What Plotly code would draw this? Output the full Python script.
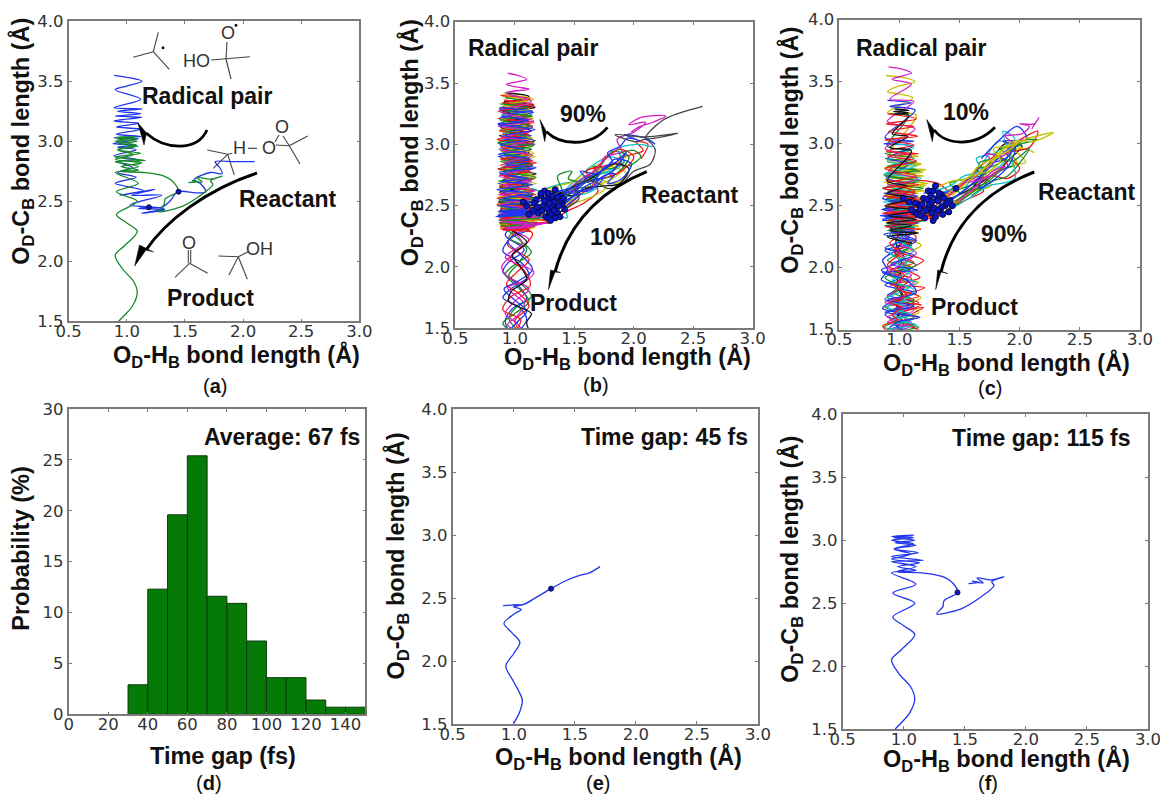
import plotly.graph_objects as go

W, H = 1160, 795
BLUE, GREEN, RED, CYAN, MAG, OLIVE, BLACK = "#1f35ee", "#158a2a", "#f01818", "#12bfc4", "#d41fc4", "#c4c000", "#111111"

# ---------- panel (d) histogram ----------
hist_left = [30, 40, 50, 60, 70, 80, 90, 100, 110, 120, 130, 140]
hist_prob = [2.9, 12.3, 19.6, 25.4, 11.6, 10.9, 7.2, 3.6, 3.6, 1.4, 0.7, 0.7]
hist_ticks = [0, 20, 40, 60, 80, 100, 120, 140]

# ---------- single trajectories ----------
e_x = [1.706, 1.62, 1.54, 1.43, 1.305, 1.19, 1.08, 0.98, 0.915, 1.09, 1.0, 1.06, 0.997, 0.92, 0.98, 1.05, 1.0, 0.935, 0.997, 1.07, 1.05, 0.997]
e_y = [2.75, 2.70, 2.68, 2.64, 2.575, 2.51, 2.45, 2.445, 2.44, 2.45, 2.43, 2.41, 2.37, 2.30, 2.23, 2.15, 2.06, 1.96, 1.84, 1.69, 1.6, 1.5]
e_dot_x, e_dot_y = [1.305], [2.575]

f_x = [1.53, 1.62, 1.56, 1.65, 1.6, 1.72, 1.82, 1.72, 1.74, 1.62, 1.47, 1.27, 1.32, 1.33, 1.44, 1.41, 1.32, 1.15, 0.94, 1.10, 0.90, 1.16, 0.90, 1.12, 0.92, 1.10, 0.93, 1.09, 0.92, 1.07, 0.91, 1.08, 0.90, 1.08, 0.90, 1.08, 0.92, 1.06, 0.90, 1.13, 0.95, 1.10, 0.90, 1.10, 0.91, 1.09, 0.91, 1.0, 1.09, 0.98, 0.90, 0.96, 1.06, 1.09, 1.05, 0.98, 0.93]
f_y = [2.655, 2.665, 2.675, 2.66, 2.70, 2.685, 2.71, 2.67, 2.64, 2.54, 2.455, 2.415, 2.47, 2.52, 2.585, 2.65, 2.71, 2.74, 2.75, 2.79, 2.83, 2.84, 2.87, 2.90, 2.93, 2.96, 2.98, 3.0, 3.02, 3.025, 3.03, 3.04, 3.03, 3.02, 3.0, 2.97, 2.93, 2.89, 2.85, 2.82, 2.79, 2.76, 2.74, 2.65, 2.58, 2.5, 2.39, 2.32, 2.25, 2.13, 2.05, 1.94, 1.83, 1.74, 1.63, 1.55, 1.5]
f_dot_x, f_dot_y = [1.44], [2.585]

a_blue_x = [2.1, 1.92, 1.76, 1.80, 1.82, 1.72, 1.58, 1.63, 1.68, 1.60, 1.44, 1.37, 1.30, 1.19, 1.10, 1.33, 1.13, 1.32, 1.03, 1.30, 1.04, 1.24, 0.94, 1.14, 0.90, 1.08, 0.92, 1.05, 0.92, 1.08, 0.89, 1.08, 0.92, 1.08, 0.88, 1.10, 0.89, 1.12, 0.91, 1.12, 0.91, 1.10, 0.89, 1.13, 0.90, 1.12, 0.92, 1.13, 0.89, 1.12, 0.90, 1.0, 1.13, 1.02, 0.89]
a_blue_y = [2.83, 2.83, 2.83, 2.78, 2.73, 2.74, 2.68, 2.65, 2.58, 2.57, 2.58, 2.50, 2.45, 2.45, 2.44, 2.43, 2.40, 2.44, 2.47, 2.55, 2.55, 2.60, 2.55, 2.59, 2.65, 2.70, 2.74, 2.78, 2.83, 2.85, 2.88, 2.93, 2.95, 2.97, 2.98, 3.02, 3.03, 3.04, 3.06, 3.10, 3.12, 3.15, 3.17, 3.20, 3.21, 3.23, 3.25, 3.27, 3.28, 3.35, 3.43, 3.46, 3.50, 3.53, 3.55]
a_dot_x, a_dot_y = [1.19, 1.445], [2.45, 2.58]

# ---------- panel (b) radical-forming bundle ----------
b_blue_x = [.90,1.12,.87,1.16,.88,1.13,.86,1.15,.90,1.14,.87,1.17,.89,1.10,.86,1.13,.91,1.16,.88,1.12,.86,1.09,.90,1.15,.87,1.14,.85,1.18,.88,1.21,.86,1.17,.84,1.24,.87,1.16,.89,1.28,.91,1.30]
b_blue_y = [3.34,3.31,3.28,3.26,3.22,3.20,3.17,3.14,3.09,3.07,3.03,3.00,2.97,2.93,2.90,2.86,2.82,2.80,2.76,2.71,2.68,2.64,2.61,2.58,2.55,2.53,2.50,2.48,2.46,2.45,2.43,2.42,2.41,2.44,2.46,2.40,2.38,2.42,2.45,2.48]
b_green_x = [.92,1.08,.89,1.14,.90,1.12,.88,1.11,.93,1.16,.88,1.13,.90,1.15,.87,1.12,.91,1.14,.89,1.10,.92,1.17,.88,1.13,.86,1.22,.90,1.15,.88,1.12,.91,1.18,.87,1.10,.93,1.13,.95,1.09,1.02,1.25]
b_green_y = [3.38,3.35,3.30,3.24,3.20,3.16,3.12,3.08,3.05,3.01,2.95,2.92,2.87,2.84,2.80,2.77,2.73,2.70,2.66,2.63,2.58,2.56,2.52,2.49,2.45,2.42,2.39,2.37,2.34,2.33,2.31,2.34,2.36,2.32,2.30,2.33,2.36,2.38,2.41,2.44]
b_red_x = [.91,1.15,.87,1.11,.86,1.16,.89,1.12,.86,1.13,.88,1.10,.92,1.15,.88,1.13,.87,1.17,.90,1.12,.88,1.18,.85,1.11,.88,1.20,.89,1.14,.87,1.16,.88,1.12,.90,1.14,.92,1.20,.95,1.30,1.05,1.35]
b_red_y = [3.36,3.33,3.29,3.25,3.21,3.18,3.13,3.10,3.04,3.02,2.98,2.94,2.89,2.87,2.83,2.78,2.75,2.72,2.69,2.65,2.60,2.59,2.56,2.52,2.47,2.44,2.40,2.39,2.36,2.35,2.33,2.31,2.30,2.33,2.36,2.38,2.35,2.37,2.40,2.43]
b_cyan_x = [.93,1.10,.90,1.13,.92,1.10,.88,1.12,.91,1.14,.89,1.09,.93,1.13,.88,1.15,.90,1.11,.87,1.14,.93,1.18,.89,1.12,.90,1.16,.92,1.10,.95,1.20]
b_cyan_y = [3.32,3.28,3.23,3.15,3.11,3.06,2.99,2.96,2.91,2.85,2.79,2.74,2.69,2.62,2.57,2.54,2.49,2.44,2.40,2.37,2.35,2.40,2.47,2.51,2.54,2.60,2.63,2.67,2.70,2.62]
b_mag_x = [.94,1.03,1.10,.93,1.0,1.12,.92,1.14,.88,1.16,.86,1.13,.89,1.10,.87,1.15,.91,1.12,.87,1.14,.90,1.17,.86,1.12,.89,1.15,.88,1.20,.87,1.14,.91,1.24,.90,1.15,.93,1.28]
b_mag_y = [3.58,3.56,3.53,3.49,3.47,3.45,3.42,3.35,3.27,3.19,3.15,3.11,3.06,3.03,2.96,2.91,2.85,2.81,2.74,2.70,2.67,2.62,2.59,2.56,2.51,2.47,2.43,2.41,2.38,2.34,2.32,2.35,2.37,2.33,2.31,2.36]
b_olive_x = [.90,1.16,.92,1.13,.89,1.10,.87,1.14,.90,1.16,.88,1.12,.91,1.17,.87,1.14,.92,1.10,.86,1.15,.89,1.13,.91,1.19,.87,1.13,.90,1.17,.88,1.15,.93,1.22,.95,1.30]
b_olive_y = [3.41,3.37,3.32,3.27,3.19,3.15,3.11,3.05,2.98,2.93,2.88,2.81,2.78,2.74,2.67,2.63,2.57,2.55,2.50,2.46,2.43,2.38,2.36,2.40,2.45,2.37,2.35,2.33,2.32,2.36,2.34,2.38,2.36,2.44]
b_black_x = [.93,1.12,.91,1.17,.89,1.14,.88,1.10,.86,1.14,.91,1.13,.89,1.18,.91,1.11,.87,1.15,.90,1.12,.88,1.17,.93,1.12,.87,1.14,.90,1.19,.92,1.13,.94,1.30]
b_black_y = [3.42,3.39,3.33,3.30,3.26,3.21,3.14,3.09,3.01,2.96,2.92,2.86,2.79,2.76,2.71,2.66,2.61,2.57,2.53,2.51,2.48,2.47,2.44,2.41,2.38,2.35,2.33,2.36,2.34,2.31,2.33,2.36]
b_e1_x = [.88,1.13,.90,1.17,.86,1.10,.92,1.15,.87,1.12,.85,1.16,.90,1.11,.88,1.18,.86,1.13,.91,1.09,.87,1.16,.92,1.12,.85,1.19,.89,1.14,.87,1.11,.93,1.17,.88,1.14]
b_e1_y = [3.40,3.37,3.34,3.31,3.27,3.23,3.19,3.15,3.11,3.08,3.04,3.00,2.96,2.91,2.88,2.85,2.80,2.78,2.74,2.69,2.66,2.62,2.59,2.55,2.51,2.48,2.45,2.43,2.39,2.37,2.35,2.33,2.31,2.29]
b_e2_x = [.87,1.15,.89,1.11,.86,1.17,.91,1.14,.88,1.09,.86,1.13,.92,1.18,.87,1.11,.89,1.15,.85,1.12,.90,1.16,.87,1.10,.86,1.20,.88,1.16,.85,1.22,.90,1.25,.86,1.18]
b_e2_y = [3.30,3.27,3.24,3.19,3.16,3.12,3.07,3.04,3.00,2.95,2.92,2.88,2.84,2.81,2.77,2.72,2.70,2.67,2.63,2.60,2.56,2.53,2.50,2.47,2.45,2.44,2.42,2.43,2.41,2.46,2.44,2.47,2.42,2.45]
b_e3_x = [.90,1.14,.87,1.12,.92,1.16,.88,1.10,.91,1.15,.86,1.13,.89,1.17,.90,1.11,.87,1.14,.92,1.18,.88,1.12,.86,1.15,.90,1.16,.89,1.13,.87,1.17,.92,1.14,.90,1.20]
b_e3_y = [3.39,3.36,3.33,3.29,3.24,3.21,3.17,3.13,3.08,3.05,3.02,2.97,2.94,2.90,2.85,2.82,2.79,2.75,2.72,2.68,2.64,2.60,2.57,2.54,2.49,2.44,2.41,2.38,2.35,2.32,2.30,2.34,2.37,2.41]
b_e4_x = [.89,1.11,.90,1.15,.87,1.13,.93,1.10,.86,1.16,.90,1.12,.88,1.14,.91,1.18,.86,1.11,.89,1.15,.87,1.13,.92,1.19,.86,1.12,.89,1.16,.91,1.14,.88,1.23,.90,1.26]
b_e4_y = [3.33,3.30,3.26,3.23,3.20,3.15,3.10,3.06,3.01,2.99,2.93,2.89,2.86,2.82,2.78,2.73,2.70,2.67,2.62,2.60,2.54,2.50,2.47,2.44,2.42,2.40,2.36,2.35,2.33,2.36,2.38,2.40,2.43,2.46]
b_e5_x = [.91,1.16,.88,1.11,.90,1.14,.87,1.17,.89,1.12,.92,1.15,.86,1.10,.90,1.13,.87,1.18,.91,1.12,.86,1.15,.89,1.14,.88,1.20,.90,1.13,.87,1.16,.89,1.22,.93,1.18]
b_e5_y = [3.35,3.32,3.28,3.22,3.18,3.11,3.07,3.03,2.99,2.93,2.89,2.83,2.80,2.75,2.71,2.67,2.65,2.63,2.59,2.56,2.53,2.50,2.48,2.46,2.43,2.40,2.38,2.37,2.35,2.34,2.32,2.35,2.38,2.42]

# arm of panel (b): from the transition-state region out to the reactant side
b_arm1_x = [1.18,1.30,1.42,1.52,1.60,1.55,1.68,1.75,1.82,1.78,1.88,1.95,2.05,1.92,2.10,2.18]
b_arm1_y = [2.56,2.60,2.63,2.66,2.72,2.78,2.76,2.80,2.86,2.93,2.98,3.05,3.03,3.08,3.05,3.00]
b_arm2_x = [1.15,1.28,1.40,1.36,1.48,1.45,1.62,1.70,1.66,1.80,1.92,1.88,2.00,2.06,1.96]
b_arm2_y = [2.45,2.52,2.60,2.74,2.78,2.72,2.70,2.76,2.82,2.80,2.86,2.92,2.95,2.90,2.82]
b_arm3_x = [1.16,1.30,1.45,1.58,1.70,1.66,1.80,1.92,1.86,2.00,2.08,2.02,2.12,2.06]
b_arm3_y = [2.40,2.38,2.46,2.52,2.62,2.70,2.74,2.80,2.88,2.92,2.95,3.02,3.00,2.88]
b_arm4_x = [1.22,1.36,1.50,1.60,1.72,1.68,1.84,1.96,1.90,1.78,1.62,1.50,1.38]
b_arm4_y = [2.62,2.66,2.70,2.78,2.84,2.74,2.84,2.90,2.78,2.70,2.64,2.56,2.48]
b_arm5_x = [1.20,1.34,1.46,1.56,1.70,1.76,1.90,1.86,2.00,2.10,1.96,2.06,2.27,2.16,2.04,1.98]
b_arm5_y = [2.50,2.56,2.64,2.72,2.80,2.90,2.94,3.04,3.10,3.18,3.16,3.22,3.23,3.18,3.14,3.10]
b_arm6_x = [1.14,1.30,1.44,1.54,1.64,1.74,1.84,1.78,1.90,1.98,1.84,1.76,1.60,1.50]
b_arm6_y = [2.44,2.48,2.54,2.62,2.64,2.74,2.76,2.68,2.72,2.84,2.88,2.80,2.72,2.62]
b_arm7_x = [1.26,1.40,1.54,1.50,1.66,1.78,1.88,2.00,2.14,2.18,2.10,2.02,1.84,2.10,2.37,2.10,2.25,2.58]
b_arm7_y = [2.40,2.46,2.56,2.66,2.70,2.64,2.66,2.78,2.84,2.96,3.04,3.02,3.08,3.06,3.09,3.05,3.20,3.31]
b_arm8_x = [1.08,1.20,1.32,1.44,1.40,1.30,1.48,1.60,1.70,1.64,1.82,1.92,1.86,2.02,2.16]
b_arm8_y = [2.50,2.47,2.44,2.40,2.50,2.56,2.58,2.60,2.66,2.74,2.78,2.86,2.96,3.00,2.98]
b_arm9_x = [1.16,1.28,1.38,1.48,1.58,1.68,1.76,1.86,1.94,1.84,1.72,1.60,1.50,1.40,1.30]
b_arm9_y = [2.50,2.58,2.62,2.60,2.68,2.72,2.82,2.86,2.94,2.80,2.72,2.66,2.58,2.50,2.44]
b_arm10_x = [1.20,1.32,1.44,1.54,1.66,1.60,1.74,1.86,1.80,1.92,2.00,1.88,1.76,1.62,1.46]
b_arm10_y = [2.42,2.50,2.50,2.58,2.68,2.78,2.82,2.84,2.74,2.80,2.90,2.96,2.88,2.74,2.60]
b_arm11_x = [1.18,1.30,1.26,1.42,1.52,1.64,1.58,1.72,1.82,1.90,1.96,1.82,1.70,1.54,1.42]
b_arm11_y = [2.56,2.62,2.50,2.56,2.64,2.66,2.74,2.72,2.74,2.80,2.90,2.94,2.80,2.70,2.54]
b_arm12_x = [1.22,1.36,1.50,1.62,1.76,1.70,1.84,1.94,1.80,1.66,1.56,1.42,1.30]
b_arm12_y = [2.46,2.44,2.52,2.56,2.64,2.72,2.68,2.76,2.82,2.76,2.66,2.52,2.42]
b_arm13_x = [1.20,1.34,1.48,1.60,1.74,1.88,1.96,1.84,1.70,1.60,1.46,1.34]
b_arm13_y = [2.60,2.62,2.58,2.64,2.66,2.68,2.80,2.84,2.76,2.70,2.64,2.52]
b_arm14_x = [1.26,1.40,1.54,1.66,1.78,1.90,1.80,1.64,1.48,1.36]
b_arm14_y = [2.64,2.68,2.70,2.74,2.78,2.86,2.90,2.82,2.68,2.56]
b_arm15_x = [1.10,1.22,1.34,1.46,1.56,1.46,1.34,1.24,1.12]
b_arm15_y = [2.42,2.46,2.50,2.56,2.60,2.52,2.42,2.40,2.46]
b_arm16_x = [1.12,1.24,1.36,1.50,1.62,1.74,1.62,1.48,1.36,1.22]
b_arm16_y = [2.54,2.58,2.58,2.62,2.62,2.72,2.70,2.64,2.54,2.48]

# product strands of panel (b)
b_p1_x = [1.02,.92,1.08,.95,.90,1.02,1.10,.98,.92,.96]
b_p1_y = [2.36,2.26,2.14,2.04,1.96,1.86,1.74,1.66,1.56,1.46]
b_p2_x = [1.10,1.00,.94,1.12,1.02,.93,1.04,1.12,1.00,1.06]
b_p2_y = [2.34,2.28,2.18,2.06,1.96,1.86,1.78,1.68,1.56,1.46]
b_p3_x = [.96,1.12,1.00,.89,.94,1.12,1.00,.92,1.02,1.08]
b_p3_y = [2.30,2.22,2.12,2.00,1.92,1.82,1.72,1.62,1.54,1.45]
b_p4_x = [1.05,.95,1.10,1.02,.95,1.08,1.14,1.00,.95,1.04]
b_p4_y = [2.33,2.24,2.15,2.02,1.93,1.84,1.76,1.66,1.58,1.47]
b_p5_x = [.93,1.10,.98,1.05,1.10,.97,.95,1.14,1.10,1.13]
b_p5_y = [2.32,2.20,2.10,2.00,1.90,1.80,1.72,1.62,1.55,1.46]
b_p6_x = [1.12,.94,1.04,1.15,1.02,.91,1.00,1.10,1.03,.93]
b_p6_y = [2.30,2.21,2.11,1.98,1.88,1.82,1.73,1.64,1.56,1.46]
b_p7_x = [.98,1.15,1.06,.96,1.08,1.13,.97,.90,1.05,1.00]
b_p7_y = [2.35,2.27,2.16,2.07,1.97,1.85,1.76,1.65,1.57,1.47]
b_p8_x = [1.00,1.06,.92,1.16,1.10,.94,1.08,1.02,.94,1.10]
b_p8_y = [2.28,2.19,2.08,1.96,1.89,1.83,1.70,1.60,1.53,1.44]
b_p9_x = [.90,1.04,1.14,1.00,.92,1.02,1.12,1.00,.90,1.02]
b_p9_y = [2.33,2.22,2.12,2.02,1.94,1.84,1.72,1.62,1.54,1.45]
b_p10_x = [1.08,.96,.90,1.06,1.12,.98,.90,1.04,1.10,1.00]
b_p10_y = [2.31,2.23,2.13,2.03,1.93,1.83,1.75,1.67,1.57,1.45]
b_dots_x = [1.10,1.15,1.18,1.22,1.25,1.28,1.31,1.34,1.37,1.40,1.42,1.20,1.24,1.27,1.30,1.33,1.36,1.39,1.16,1.19,1.23,1.26,1.29,1.32,1.35,1.38,1.25,1.28,1.31,1.34,1.37,1.22,1.27,1.30,1.33,1.36,1.07,1.12,1.41,1.29]
b_dots_y = [2.50,2.46,2.55,2.58,2.62,2.60,2.56,2.63,2.58,2.52,2.47,2.44,2.50,2.55,2.49,2.53,2.44,2.54,2.52,2.49,2.46,2.41,2.45,2.58,2.48,2.41,2.54,2.40,2.43,2.40,2.50,2.60,2.48,2.38,2.46,2.57,2.53,2.43,2.56,2.52]

# ---------- panel (c) bundle ----------
c_blue_x = [.90,1.10,.92,1.13,.88,1.12,.87,1.11,.90,1.08,.89,1.04,.86,1.12,.88,1.08,.84,1.13,.86,1.15,.88,1.18,.88,1.24]
c_blue_y = [3.35,3.33,3.30,3.27,3.05,3.02,3.00,2.98,2.88,2.84,2.72,2.68,2.56,2.52,2.48,2.44,2.42,2.40,2.38,2.42,2.46,2.43,2.40,2.48]
c_green_x = [.92,1.07,.90,1.10,.88,1.12,.93,1.14,.88,1.16,.86,1.13,.89,1.18,.86,1.08,.92,1.16,.88,1.13,.90,1.20]
c_green_y = [3.24,3.22,2.98,2.95,2.92,2.88,2.82,2.79,2.74,2.70,2.64,2.60,2.56,2.52,2.47,2.44,2.40,2.37,2.34,2.32,2.30,2.38]
c_red_x = [.90,1.14,.89,1.12,.91,1.15,.88,1.12,.89,1.16,.90,1.14,.88,1.14,.90,1.13,.87,1.16,.90,1.25,.92,1.32,.95,1.16,1.38]
c_red_y = [3.24,3.20,3.16,3.14,3.10,3.06,3.03,2.99,2.94,2.92,2.90,2.86,2.80,2.74,2.68,2.62,2.58,2.54,2.50,2.48,2.44,2.42,2.40,2.38,2.44]
c_cyan_x = [.93,1.12,.90,1.14,.88,1.18,.90,1.12,.87,1.15,.92,1.20,.90,1.14]
c_cyan_y = [3.00,2.97,2.86,2.82,2.76,2.72,2.66,2.60,2.53,2.49,2.45,2.42,2.36,2.33]
c_mag_x = [.91,1.03,1.10,.94,1.10,.92,1.12,.90,1.13,.88,1.10,.91,1.15,.88,1.14,.90,1.22,.92]
c_mag_y = [3.62,3.60,3.57,3.52,3.48,3.36,3.34,3.18,3.12,2.96,2.90,2.78,2.72,2.64,2.56,2.46,2.42,2.34]
c_olive_x = [.89,1.05,1.13,.98,.90,1.00,1.11,.90,1.14,.92,1.16,.90,1.18,.88,1.22,.90,1.20,.88,1.24,.90,1.22,.87,1.16,.90,1.12,.88,1.18,.92,1.14,.89,1.16]
c_olive_y = [3.55,3.53,3.50,3.46,3.42,3.40,3.37,3.25,3.23,2.92,2.90,2.86,2.84,2.81,2.79,2.76,2.74,2.71,2.68,2.65,2.62,2.60,2.57,2.55,2.52,2.49,2.46,2.43,2.40,2.37,2.34]
c_black_x = [.96,1.08,.95,1.08,.96,1.08,.94,1.07,.92,1.10,.90,1.06,.90,1.12,.88,1.15,.91,1.14,.89,1.10,.93,1.13]
c_black_y = [3.28,3.27,3.26,3.25,3.24,3.23,3.08,3.06,2.97,2.94,2.70,2.66,2.60,2.56,2.50,2.46,2.42,2.39,2.36,2.34,2.30,2.28]
c_e1_x = [.90,1.18,.88,1.20,.91,1.14,.87,1.22,.90,1.16,.88,1.24,.92,1.16]
c_e1_y = [2.85,2.83,2.80,2.77,2.74,2.72,2.69,2.66,2.63,2.60,2.58,2.56,2.53,2.51]
c_e2_x = [.88,1.14,.90,1.17,.87,1.13,.91,1.20,.88,1.15,.90,1.18,.86,1.14]
c_e2_y = [2.88,2.85,2.82,2.78,2.75,2.70,2.67,2.64,2.60,2.57,2.54,2.50,2.47,2.45]
c_e3_x = [.89,1.16,.86,1.13,.90,1.19,.88,1.14,.86,1.16,.90,1.14,.88,1.18]
c_e3_y = [2.70,2.67,2.64,2.60,2.57,2.55,2.50,2.47,2.44,2.42,2.38,2.36,2.33,2.31]
c_e4_x = [.90,1.12,.88,1.15,.92,1.10,.87,1.14,.90,1.13,.92,1.16,.90,1.10]
c_e4_y = [2.62,2.58,2.55,2.52,2.48,2.45,2.42,2.40,2.37,2.34,2.31,2.28,2.25,2.20]
c_e5_x = [.87,1.15,.90,1.10,.85,1.17,.88,1.20,.86,1.16,.90,1.12,.87,1.14]
c_e5_y = [2.60,2.58,2.54,2.50,2.47,2.44,2.41,2.44,2.39,2.36,2.33,2.30,2.27,2.22]

c_arm1_x = [1.16,1.30,1.42,1.52,1.62,1.70,1.78,1.72,1.86,1.94,1.88,2.02,2.08,2.00,2.12,2.16,2.10]
c_arm1_y = [2.56,2.54,2.60,2.68,2.72,2.80,2.84,2.92,2.90,3.00,3.06,3.08,3.14,3.16,3.16,3.21,3.12]
c_arm2_x = [1.20,1.36,1.46,1.58,1.70,1.64,1.78,1.90,1.84,1.96,2.04,2.15,2.02,1.92]
c_arm2_y = [2.48,2.58,2.62,2.66,2.72,2.80,2.82,2.90,2.96,2.98,3.03,3.03,3.00,2.94]
c_arm3_x = [1.24,1.38,1.50,1.62,1.76,1.72,1.86,1.98,1.92,2.02,2.12,1.98,1.88,2.05,1.92]
c_arm3_y = [2.40,2.46,2.54,2.62,2.66,2.76,2.80,2.84,2.94,2.96,2.93,2.98,3.02,2.85,2.84]
c_arm4_x = [1.20,1.34,1.32,1.44,1.56,1.68,1.66,1.80,1.92,1.96,1.86,2.06,1.98,1.80,1.68]
c_arm4_y = [2.60,2.62,2.52,2.56,2.64,2.72,2.64,2.72,2.84,2.98,3.02,3.04,3.14,3.00,2.88]
c_arm5_x = [1.18,1.32,1.46,1.58,1.70,1.62,1.78,1.90,2.00,1.90,2.08,2.15,1.98]
c_arm5_y = [2.44,2.42,2.50,2.56,2.62,2.70,2.74,2.72,2.80,2.92,2.97,3.10,3.02]
c_arm6_x = [1.22,1.35,1.48,1.60,1.74,1.84,1.78,1.92,2.06,2.28,2.12,1.95,1.82,1.68]
c_arm6_y = [2.52,2.56,2.66,2.74,2.78,2.86,2.96,2.98,3.04,3.09,3.02,3.02,2.92,2.78]
c_arm7_x = [1.20,1.36,1.50,1.42,1.58,1.72,1.66,1.84,1.94,2.08,1.90,1.78,1.60]
c_arm7_y = [2.40,2.52,2.60,2.68,2.72,2.76,2.84,2.88,2.86,2.96,2.74,2.70,2.58]
c_arm8_x = [1.28,1.42,1.54,1.68,1.64,1.78,1.88,1.96,1.86,1.96,1.74,1.58,1.44]
c_arm8_y = [2.62,2.66,2.74,2.78,2.88,2.92,2.98,3.04,3.10,2.72,2.66,2.56,2.48]
c_arm9_x = [1.20,1.34,1.46,1.56,1.68,1.78,1.90,1.82,1.70,1.58,1.44,1.30]
c_arm9_y = [2.42,2.42,2.52,2.60,2.66,2.76,2.82,2.90,2.84,2.72,2.60,2.50]
c_arm10_x = [1.16,1.30,1.42,1.54,1.66,1.76,1.88,1.98,1.86,1.72,1.56,1.40]
c_arm10_y = [2.52,2.58,2.62,2.70,2.76,2.84,2.88,3.00,2.92,2.78,2.64,2.52]
c_arm11_x = [1.22,1.36,1.50,1.60,1.72,1.84,1.94,1.82,1.68,1.54,1.38]
c_arm11_y = [2.46,2.50,2.56,2.64,2.68,2.78,2.82,2.78,2.66,2.56,2.44]
c_arm12_x = [1.30,1.44,1.56,1.66,1.78,1.90,2.00,1.88,1.74,1.60,1.44]
c_arm12_y = [2.64,2.70,2.72,2.82,2.88,2.94,3.02,2.96,2.82,2.72,2.58]
c_arm13_x = [1.28,1.42,1.56,1.70,1.82,1.92,2.02,1.88,1.72,1.58]
c_arm13_y = [2.58,2.56,2.62,2.70,2.78,2.88,2.98,3.00,2.80,2.60]
c_arm14_x = [1.34,1.48,1.60,1.72,1.86,1.94,1.82,1.68,1.54]
c_arm14_y = [2.60,2.66,2.74,2.76,2.84,2.98,3.02,2.82,2.64]
c_arm15_x = [1.26,1.40,1.52,1.64,1.76,1.88,1.78,1.64,1.50]
c_arm15_y = [2.52,2.60,2.68,2.70,2.74,2.82,2.78,2.66,2.54]
c_arm16_x = [1.10,1.22,1.34,1.42]
c_arm16_y = [2.70,2.70,2.67,2.60]

c_p1_x = [1.02,.92,1.14,.94,.86,.90,.85,1.04,.90,1.12,.95,.88,1.00,.92,1.02]
c_p1_y = [2.38,2.30,2.22,2.12,2.06,1.98,1.90,1.84,1.78,1.72,1.66,1.62,1.56,1.52,1.46]
c_p2_x = [.95,1.16,1.06,1.18,.98,1.10,.92,1.16,1.02,1.18,1.08,1.16,1.00,1.12,1.04]
c_p2_y = [2.40,2.32,2.24,2.18,2.08,2.00,1.94,1.88,1.82,1.76,1.70,1.64,1.58,1.53,1.46]
c_p3_x = [1.10,.94,1.08,.90,1.10,.88,1.02,.90,1.12,1.00,1.15,.96,.87,1.06,.95]
c_p3_y = [2.36,2.26,2.16,2.06,2.00,1.92,1.84,1.76,1.70,1.64,1.60,1.56,1.52,1.49,1.45]
c_p4_x = [.98,1.12,1.00,1.14,1.04,.92,1.12,.98,.88,1.08,.90,1.10,1.00,.92,1.08]
c_p4_y = [2.42,2.30,2.20,2.12,2.04,1.96,1.88,1.82,1.74,1.68,1.60,1.56,1.52,1.48,1.45]
c_p5_x = [1.00,1.14,.96,1.20,1.08,1.17,.92,1.21,1.00,1.16,.94,1.12,1.02,1.16,.98]
c_p5_y = [2.34,2.24,2.14,2.06,1.98,1.92,1.86,1.84,1.76,1.72,1.66,1.60,1.55,1.50,1.45]
c_p6_x = [.94,1.02,.92,1.00,.90,1.04,.96,1.06,.92,1.02,.94,.98,.90,.86,.94]
c_p6_y = [2.36,2.28,2.20,2.12,2.02,1.94,1.86,1.78,1.72,1.68,1.62,1.58,1.55,1.53,1.46]
c_p7_x = [1.06,1.00,1.12,.98,1.08,.94,1.12,1.04,.90,1.10,.96,1.14,.90,1.06,.96]
c_p7_y = [2.32,2.22,2.14,2.04,1.96,1.90,1.82,1.74,1.68,1.62,1.58,1.54,1.50,1.47,1.45]
c_p8_x = [1.00,1.02,.97,1.04,.99,1.02,.98,1.03,.97,1.02,.98,1.03,.98,1.02,.99]
c_p8_y = [2.44,2.32,2.20,2.08,2.00,1.92,1.84,1.78,1.70,1.64,1.60,1.56,1.53,1.48,1.45]
c_p9_x = [.92,1.08,.88,1.12,.93,1.15,.86,1.06,1.14,.90,1.12,.88,1.17,.96,1.10]
c_p9_y = [2.30,2.24,2.16,2.10,2.03,1.98,1.96,1.90,1.80,1.74,1.69,1.64,1.60,1.55,1.46]
c_p10_x = [.95,1.10,.88,1.02,.85,1.00,.88,1.12,.92,.86,1.08,.95,1.12,.90,1.00]
c_p10_y = [2.28,2.20,2.14,2.06,1.98,1.92,1.86,1.80,1.72,1.67,1.62,1.58,1.54,1.50,1.45]
c_p11_x = [1.04,.92,1.10,.96,1.14,.90,1.06,.94,1.12,.88,1.08,.92,1.16,.96,1.04]
c_p11_y = [2.35,2.26,2.18,2.10,2.02,1.95,1.88,1.80,1.74,1.68,1.63,1.58,1.52,1.48,1.44]
c_p12_x = [.92,1.08,.96,1.12,.90,1.10,1.00,1.16,.94,1.18,1.00,1.20,1.04,1.14,1.10]
c_p12_y = [2.30,2.20,2.12,2.04,1.97,1.91,1.83,1.77,1.72,1.70,1.64,1.68,1.58,1.50,1.45]
c_p13_x = [1.08,.94,1.04,.90,1.10,.96,1.06,.88,1.12,1.00,.90,1.08,.96,1.12,.92]
c_p13_y = [2.26,2.16,2.08,2.00,1.94,1.86,1.78,1.72,1.66,1.60,1.56,1.52,1.49,1.47,1.44]
c_p14_x = [1.10,1.00,.92,1.06,.94,1.14,1.00,.88,1.06,.94,1.10,.96,1.04,.92,1.08]
c_p14_y = [2.28,2.22,2.12,2.04,1.94,1.88,1.80,1.75,1.68,1.62,1.58,1.54,1.50,1.47,1.45]
c_p15_x = [1.00,1.06,.96,1.04,1.00,.98,1.02,.96,1.03,.98,1.02,.97,1.02,.99,1.00]
c_p15_y = [2.36,2.24,2.14,2.02,1.96,1.86,1.76,1.72,1.66,1.62,1.58,1.54,1.50,1.47,1.44]
c_dots_x = [1.03,1.08,1.12,1.16,1.20,1.24,1.28,1.31,1.35,1.38,1.42,1.47,1.10,1.15,1.19,1.23,1.27,1.30,1.34,1.37,1.41,1.13,1.18,1.22,1.26,1.29,1.33,1.36,1.40,1.21,1.25,1.28,1.32,1.35,1.17,1.24,1.30,1.27,1.44,1.32]
c_dots_y = [2.56,2.53,2.45,2.51,2.56,2.48,2.62,2.55,2.59,2.50,2.54,2.64,2.47,2.43,2.51,2.55,2.44,2.66,2.47,2.56,2.45,2.52,2.42,2.46,2.58,2.48,2.60,2.43,2.52,2.40,2.51,2.38,2.54,2.49,2.47,2.62,2.41,2.53,2.50,2.46]

# ---------- panel frames in page pixels (left, right, top, bottom) ----------
frames = [(68.7, 359.3, 21.3, 321.3), (455.3, 752.7, 21.7, 328.3), (839.3, 1140, 19.7, 329.7),
          (68.7, 365.3, 409, 714.3), (452.7, 758, 409.3, 724), (842.7, 1148, 414.3, 729)]

fig = go.Figure()
TITLE_X = "O<sub>D</sub>-H<sub>B</sub> bond length (Å)"
TITLE_Y = "O<sub>D</sub>-C<sub>B</sub> bond length (Å)"
SANS = "Liberation Sans"
TICK = "DejaVu Sans"


def fx(v):
    return v / W


def fy(v):
    return 1 - v / H


axis_style = dict(showgrid=False, zeroline=False, showline=True, linecolor="#7a7a7a", linewidth=1.6,
                  mirror="allticks", ticks="inside", ticklen=3, tickcolor="#7a7a7a", tickwidth=1,
                  ticklabeloverflow="allow",
                  tickfont=dict(family=TICK, size=16.5, color="#333333"))
layout_axes = {}
for i, (l, r, t, b) in enumerate(frames, start=1):
    sx = "" if i == 1 else str(i)
    if i == 4:
        xa = dict(domain=[fx(l), fx(r)], range=[0, 150], tickvals=hist_ticks, anchor=f"y{sx}", ticklabelstandoff=-6, **axis_style)
        ya = dict(domain=[fy(b), fy(t)], range=[0, 30], tickvals=[0, 5, 10, 15, 20, 25, 30], anchor=f"x{sx}", **axis_style)
    else:
        xa = dict(domain=[fx(l), fx(r)], range=[0.5, 3], tick0=0.5, dtick=0.5, tickformat=".1f", anchor=f"y{sx}", ticklabelstandoff=-6, **axis_style)
        ya = dict(domain=[fy(b), fy(t)], range=[1.5, 4], tick0=1.5, dtick=0.5, tickformat=".1f", anchor=f"x{sx}", **axis_style)
    layout_axes[f"xaxis{sx}"] = xa
    layout_axes[f"yaxis{sx}"] = ya


def line(panel, x, y, color, width=1.3):
    sx = "" if panel == 1 else str(panel)
    fig.add_trace(go.Scatter(x=x, y=y, mode="lines", xaxis=f"x{sx}", yaxis=f"y{sx}", showlegend=False,
                             hoverinfo="skip", line=dict(color=color, width=width, shape="spline", smoothing=0.9)))


def dots(panel, x, y, size=6):
    sx = "" if panel == 1 else str(panel)
    fig.add_trace(go.Scatter(x=x, y=y, mode="markers", xaxis=f"x{sx}", yaxis=f"y{sx}", showlegend=False,
                             hoverinfo="skip", marker=dict(color="#0b16c4", size=size, line=dict(color="#0a0a40", width=1))))


# (a)
line(1, a_blue_x, a_blue_y, BLUE)
line(1, f_x, f_y, GREEN)
dots(1, a_dot_x, a_dot_y, 5)

# (b)
BW = 1.3
for arr_x, arr_y, col in [(b_p1_x, b_p1_y, BLUE), (b_p10_x, b_p10_y, BLUE), (b_p4_x, b_p4_y, GREEN), (b_p9_x, b_p9_y, GREEN),
                          (b_p2_x, b_p2_y, RED), (b_p3_x, b_p3_y, MAG), (b_p6_x, b_p6_y, BLUE), (b_p7_x, b_p7_y, RED),
                          (b_p8_x, b_p8_y, MAG), (b_p5_x, b_p5_y, BLACK),
                          (b_arm14_x, b_arm14_y, CYAN), (b_arm3_x, b_arm3_y, RED), (b_arm4_x, b_arm4_y, OLIVE),
                          (b_arm12_x, b_arm12_y, OLIVE), (b_arm2_x, b_arm2_y, GREEN), (b_arm11_x, b_arm11_y, GREEN),
                          (b_arm10_x, b_arm10_y, RED), (b_arm8_x, b_arm8_y, CYAN), (b_arm5_x, b_arm5_y, MAG),
                          (b_arm13_x, b_arm13_y, BLACK), (b_arm1_x, b_arm1_y, BLUE), (b_arm6_x, b_arm6_y, BLUE),
                          (b_arm9_x, b_arm9_y, BLUE), (b_arm15_x, b_arm15_y, BLUE), (b_arm16_x, b_arm16_y, BLUE),
                          (b_arm7_x, b_arm7_y, "#444444"),
                          (b_black_x, b_black_y, BLACK), (b_e5_x, b_e5_y, BLACK), (b_cyan_x, b_cyan_y, CYAN),
                          (b_e3_x, b_e3_y, OLIVE), (b_green_x, b_green_y, GREEN), (b_red_x, b_red_y, RED),
                          (b_blue_x, b_blue_y, BLUE), (b_olive_x, b_olive_y, OLIVE), (b_e1_x, b_e1_y, RED),
                          (b_e4_x, b_e4_y, GREEN), (b_mag_x, b_mag_y, MAG), (b_e2_x, b_e2_y, BLUE)]:
    line(2, arr_x, arr_y, col, BW)
dots(2, b_dots_x, b_dots_y)

# (c)
for arr_x, arr_y, col in [(c_p15_x, c_p15_y, BLACK), (c_p8_x, c_p8_y, BLACK), (c_p2_x, c_p2_y, OLIVE), (c_p5_x, c_p5_y, RED),
                          (c_p1_x, c_p1_y, BLUE), (c_p10_x, c_p10_y, BLUE),
                          (c_p3_x, c_p3_y, GREEN), (c_p11_x, c_p11_y, GREEN), (c_p12_x, c_p12_y, RED),
                          (c_p4_x, c_p4_y, MAG), (c_p13_x, c_p13_y, MAG), (c_p7_x, c_p7_y, CYAN), (c_p14_x, c_p14_y, CYAN),
                          (c_p9_x, c_p9_y, BLUE), (c_p6_x, c_p6_y, RED),
                          (c_arm13_x, c_arm13_y, BLACK), (c_arm16_x, c_arm16_y, RED), (c_arm14_x, c_arm14_y, CYAN), (c_arm3_x, c_arm3_y, OLIVE),
                          (c_arm5_x, c_arm5_y, RED), (c_arm9_x, c_arm9_y, RED), (c_arm7_x, c_arm7_y, GREEN),
                          (c_arm8_x, c_arm8_y, CYAN), (c_arm2_x, c_arm2_y, GREEN), (c_arm11_x, c_arm11_y, GREEN),
                          (c_arm4_x, c_arm4_y, BLUE), (c_arm10_x, c_arm10_y, BLUE), (c_arm15_x, c_arm15_y, MAG),
                          (c_arm1_x, c_arm1_y, MAG), (c_arm12_x, c_arm12_y, OLIVE), (c_arm6_x, c_arm6_y, OLIVE),
                          (c_e4_x, c_e4_y, BLACK), (c_e1_x, c_e1_y, OLIVE), (c_olive_x, c_olive_y, OLIVE),
                          (c_e2_x, c_e2_y, GREEN), (c_green_x, c_green_y, GREEN), (c_e5_x, c_e5_y, BLUE), (c_blue_x, c_blue_y, BLUE),
                          (c_cyan_x, c_cyan_y, CYAN), (c_mag_x, c_mag_y, MAG),
                          (c_e3_x, c_e3_y, RED), (c_red_x, c_red_y, RED),
                          (c_black_x, c_black_y, BLACK)]:
    line(3, arr_x, arr_y, col, BW)
dots(3, c_dots_x, c_dots_y)

# (d)
fig.add_trace(go.Bar(x=[v + 5 for v in hist_left], y=hist_prob, width=10, xaxis="x4", yaxis="y4", showlegend=False,
                     hoverinfo="skip", marker=dict(color="#067a06", line=dict(color="#0c3a0c", width=1))))
# (e)
line(5, e_x, e_y, BLUE)
dots(5, e_dot_x, e_dot_y, 5)
# (f)
line(6, f_x, f_y, BLUE)
dots(6, f_dot_x, f_dot_y, 5)

# ---------- text ----------
annots = []


def text(x, y, s, size=23.5, bold=True, angle=0, color="#111111"):
    annots.append(dict(x=fx(x), y=fy(y), xref="paper", yref="paper", text=f"<b>{s}</b>" if bold else s, showarrow=False,
                       textangle=angle, xanchor="center", yanchor="middle",
                       font=dict(family=SANS, size=size, color=color)))


for x, y in [(236, 356), (627, 358), (1006, 364), (618, 757.7), (1006, 760)]:
    text(x, y, TITLE_X)
for x, y in [(21.7, 141), (411.7, 142.5), (790.7, 150), (396.7, 555.7), (790.7, 559)]:
    text(x, y, TITLE_Y, angle=-90)
text(222.7, 755.7, "Time gap (fs)")
text(20.7, 548, "Probability (%)", angle=-90)
for x, y, s in [(215, 386, "a"), (595.7, 385, "b"), (990, 388, "c"), (209, 783, "d"), (597.7, 782.7, "e"), (988, 783, "f")]:
    text(x, y, f"(<b>{s}</b>)", size=20, bold=False)
for x, y, s in [(206.7, 95.7, "Radical pair"), (287.3, 199, "Reactant"), (210, 298, "Product"),
                (533.3, 48.3, "Radical pair"), (583.3, 114, "90%"), (689, 195, "Reactant"), (612.7, 237.3, "10%"), (573.3, 302.7, "Product"),
                (920.7, 47.7, "Radical pair"), (966, 111.7, "10%"), (1086.7, 192.3, "Reactant"), (1004, 234, "90%"), (974, 307, "Product"),
                (281.7, 437.3, "Average: 67 fs"), (664.3, 437.3, "Time gap: 45 fs"), (1041, 438.3, "Time gap: 115 fs")]:
    text(x, y, s, size=23)
# chemical structure labels of panel (a)
for x, y, s in [(228, 33, "O"), (196, 61, "HO"), (239, 148, "H"), (269, 148, "O"), (282, 127, "O"), (189, 243, "O"), (259, 249, "OH")]:
    text(x, y, s, size=18, bold=False, color="#333333")

# ---------- decorations drawn in page pixels ----------
shapes = []


def P(x, y):
    return f"{fx(x):.5f},{fy(y):.5f}"


def seg(x0, y0, x1, y1):
    shapes.append(dict(type="line", xref="paper", yref="paper", x0=fx(x0), y0=fy(y0), x1=fx(x1), y1=fy(y1),
                       line=dict(color="#444444", width=1.1)))


def arrow(p0, c1, c2, p1, head, width):
    shapes.append(dict(type="path", xref="paper", yref="paper", line=dict(color="#000000", width=width),
                       path=f"M {P(*p0)} C {P(*c1)} {P(*c2)} {P(*p1)}"))
    shapes.append(dict(type="path", xref="paper", yref="paper", fillcolor="#000000", line=dict(color="#000000", width=0.5),
                       path="M " + " L ".join(P(*h) for h in head) + " Z"))


arrow((257, 173), (205, 190), (165, 222), (146, 250), [(134.7, 266), (139.5, 245), (153.5, 252), (146, 250)], 3)
arrow((207, 130), (197, 152), (165, 150), (146, 133), [(137.7, 122.5), (144, 145), (146.5, 133)], 2.8)
arrow((646.7, 171.7), (590, 195), (565, 235), (555, 272), [(548.5, 289.5), (550.5, 270), (560.5, 272.5), (555, 272)], 3)
arrow((607.5, 127.3), (590, 148), (560, 145), (546.5, 131.7), [(540, 119.5), (544.7, 141.7), (546.5, 131.7)], 2.8)
arrow((1034.3, 172), (975, 195), (950, 235), (941, 272), [(935.7, 289.5), (937.7, 270), (947.7, 273.5), (941, 272)], 3)
arrow((995, 127.3), (975, 148), (945, 145), (934.3, 130), [(926.7, 119.5), (932.3, 141.7), (934.3, 130)], 2.8)

for s in [(153.3, 51.7, 158.3, 32.3), (153.3, 51.7, 133.3, 57.3), (153.3, 51.7, 169.3, 69.3),
          (211, 60, 250, 56.7), (226, 59, 231, 79), (226, 59, 227, 42),
          (227.7, 154.3, 207.3, 150), (227.7, 154.3, 234.3, 175), (227.7, 154.3, 213.3, 168.3), (227.7, 154.3, 232.3, 153.3),
          (289.3, 145.7, 307.7, 136), (289.3, 145.7, 300, 164), (289.3, 145.7, 276, 145),
          (283, 136, 289.3, 145.7), (275, 142, 279, 135),
          (188.3, 250, 188.3, 263.3), (190.7, 250, 190.7, 263.3), (189.5, 263.3, 175, 277.3), (189.5, 263.3, 207.7, 273.3),
          (238.3, 256.7, 218.3, 256), (238.3, 256.7, 229, 275), (238.3, 256.7, 247.3, 279.3), (238.3, 256.7, 248.3, 251.7)]:
    seg(*s)
shapes.append(dict(type="line", xref="paper", yref="paper", x0=fx(248), y0=fy(148.3), x1=fx(260), y1=fy(148.3),
                   line=dict(color="#444444", width=1.2, dash="dash")))
for cx, cy in [(163, 47.7), (236, 25.3)]:
    shapes.append(dict(type="circle", xref="paper", yref="paper", x0=fx(cx - 1.5), x1=fx(cx + 1.5), y0=fy(cy + 1.5), y1=fy(cy - 1.5),
                       fillcolor="#111111", line=dict(width=0)))

fig.update_layout(width=W, height=H, margin=dict(l=0, r=0, t=0, b=0, autoexpand=False), paper_bgcolor="white", plot_bgcolor="white",
                  showlegend=False, annotations=annots, shapes=shapes, **layout_axes)
fig.write_html("out.html", config={"displayModeBar": False},
               post_script="document.body.style.margin='0';document.documentElement.style.overflow='hidden';")
